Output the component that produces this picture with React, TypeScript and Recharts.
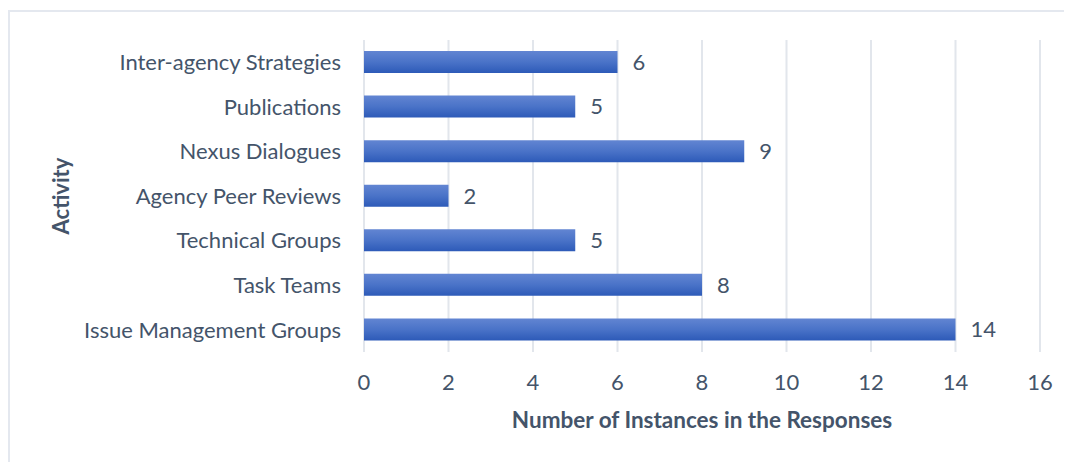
import React from "react";
import {
  BarChart,
  Bar,
  XAxis,
  YAxis,
  CartesianGrid,
  LabelList,
} from "recharts";

// Activities, listed top to bottom as drawn
const activities = [
  "Inter-agency Strategies",
  "Publications",
  "Nexus Dialogues",
  "Agency Peer Reviews",
  "Technical Groups",
  "Task Teams",
  "Issue Management Groups",
];

// Number of instances per activity
const instances = [6, 5, 9, 2, 5, 8, 14];

const xTicks = [0, 2, 4, 6, 8, 10, 12, 14, 16];

const data = activities.map((name, i) => ({ name, value: instances[i] }));

const FONT = "Lato, 'Open Sans', sans-serif";
const TEXT = "#44546A";

// Rotated y-axis title, centred on the plot's vertical extent
const ActivityTitle = (props: any) => {
  const vb = props.viewBox || { y: 40, height: 312 };
  const cx = 60;
  const cy = vb.y + vb.height / 2;
  return (
    <text
      x={cx}
      y={cy}
      transform={`rotate(-90 ${cx} ${cy})`}
      textAnchor="middle"
      dominantBaseline="central"
      fill={TEXT}
      fontSize={22}
      fontWeight={700}
      fontFamily={FONT}
    >
      Activity
    </text>
  );
};

export default function App() {
  return (
    <div
      style={{
        position: "relative",
        left: -8,
        top: -8,
        width: 1072,
        height: 462,
        overflow: "hidden",
        background: "#fff",
        fontFamily: FONT,
      }}
    >
      <div
        style={{
          position: "absolute",
          left: 8,
          top: 10,
          width: 1200,
          height: 600,
          border: "2px solid #E4E8EF",
          boxSizing: "border-box",
        }}
      />
      <div style={{ position: "absolute", left: 0, top: 0 }}>
        <BarChart
          width={1072}
          height={462}
          data={data}
          layout="vertical"
          margin={{ top: 40, right: 32, bottom: 0, left: 0 }}
        >
          <defs>
            <linearGradient id="barFill" x1="0" y1="0" x2="0" y2="1">
              <stop offset="0%" stopColor="#6285D2" />
              <stop offset="50%" stopColor="#4A73C8" />
              <stop offset="100%" stopColor="#2D5AB8" />
            </linearGradient>
          </defs>
          <CartesianGrid
            horizontal={false}
            stroke="#E2E6EC"
            strokeWidth={2}
          />
          <XAxis
            type="number"
            domain={[0, 16]}
            ticks={xTicks}
            height={110}
            axisLine={false}
            tickLine={false}
            tickSize={0}
            tickMargin={22}
            tick={{ fill: TEXT, fontSize: 22, fontFamily: FONT }}
            label={{
              value: "Number of Instances in the Responses",
              position: "insideBottom",
              offset: 34,
              fill: TEXT,
              fontSize: 22.5,
              fontWeight: 700,
              fontFamily: FONT,
            }}
          />
          <YAxis
            type="category"
            dataKey="name"
            width={364}
            axisLine={false}
            tickLine={false}
            tickSize={0}
            tickMargin={23}
            tick={{ fill: TEXT, fontSize: 22, fontFamily: FONT }}
            label={{ content: ActivityTitle }}
          />
          <Bar
            dataKey="value"
            fill="url(#barFill)"
            barSize={22}
            isAnimationActive={false}
          >
            <LabelList
              dataKey="value"
              position="right"
              offset={15}
              fill={TEXT}
              fontSize={22}
              fontFamily={FONT}
            />
          </Bar>
        </BarChart>
      </div>
    </div>
  );
}
